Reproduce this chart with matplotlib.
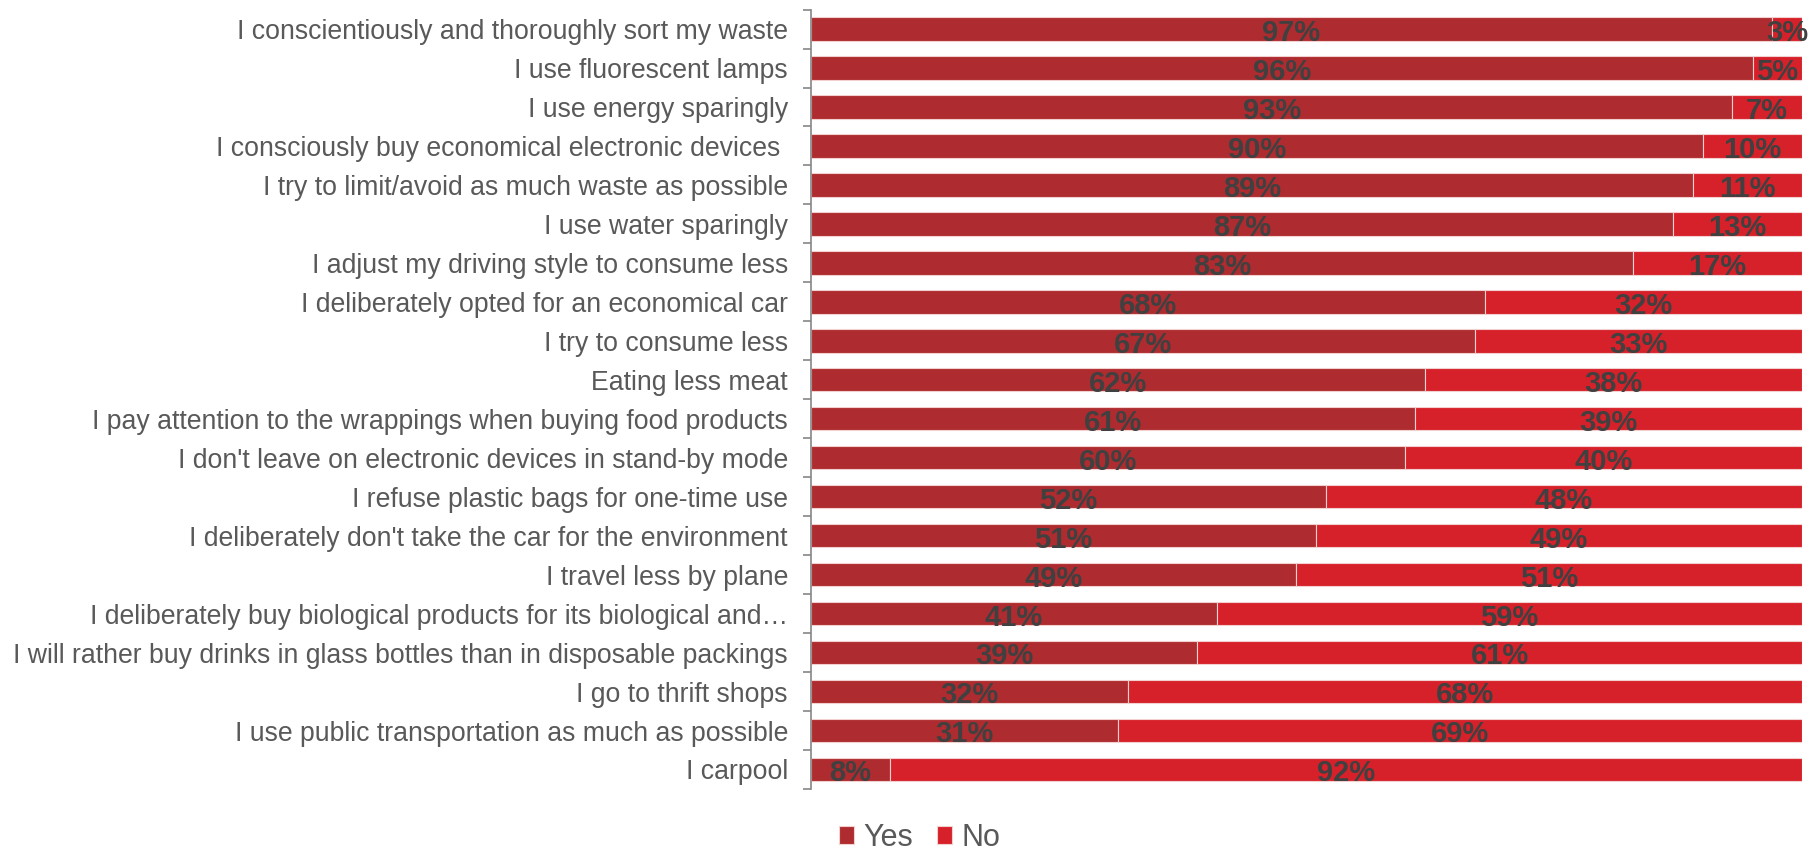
import matplotlib.pyplot as plt
from matplotlib.ticker import FixedLocator

plt.rcParams['font.family'] = ['Liberation Sans', 'DejaVu Sans']

categories = [
    "I conscientiously and thoroughly sort my waste",
    "I use fluorescent lamps",
    "I use energy sparingly",
    "I consciously buy economical electronic devices ",
    "I try to limit/avoid as much waste as possible",
    "I use water sparingly",
    "I adjust my driving style to consume less",
    "I deliberately opted for an economical car",
    "I try to consume less",
    "Eating less meat",
    "I pay attention to the wrappings when buying food products",
    "I don't leave on electronic devices in stand-by mode",
    "I refuse plastic bags for one-time use",
    "I deliberately don't take the car for the environment",
    "I travel less by plane",
    "I deliberately buy biological products for its biological and\u2026",
    "I will rather buy drinks in glass bottles than in disposable packings",
    "I go to thrift shops",
    "I use public transportation as much as possible",
    "I carpool",
]
yes = [97, 96, 93, 90, 89, 87, 83, 68, 67, 62, 61, 60, 52, 51, 49, 41, 39, 32, 31, 8]
no = [3, 5, 7, 10, 11, 13, 17, 32, 33, 38, 39, 40, 48, 49, 51, 59, 61, 68, 69, 92]

YES_COLOR = '#ae2b2f'
NO_COLOR = '#d7212a'
LABEL_COLOR = '#404040'

# each row is stretched to 100 %
totals = [y + n for y, n in zip(yes, no)]
yes_share = [y / t * 100 for y, t in zip(yes, totals)]
no_share = [n / t * 100 for n, t in zip(no, totals)]

fig = plt.figure(figsize=(18.1, 8.56), dpi=100)
ax = fig.add_axes([0.448, 0.0783, 0.5475, 0.9105])

pos = list(range(len(categories)))
b1 = ax.barh(pos, yes_share, height=0.6, color=YES_COLOR,
             edgecolor='#f3d0d0', linewidth=0.8, label='Yes')
b2 = ax.barh(pos, no_share, left=yes_share, height=0.6, color=NO_COLOR,
             edgecolor='#f3d0d0', linewidth=0.8, label='No')

for bars, vals in ((b1, yes), (b2, no)):
    for rect, v in zip(bars, vals):
        cx = rect.get_x() + rect.get_width() / 2
        cy = rect.get_y() + rect.get_height() / 2
        ax.text(cx, cy + 0.1, f'{v}%', ha='center', va='center',
                fontsize=21, fontweight='bold', color=LABEL_COLOR)

ax.set_xlim(0, 100)
ax.set_ylim(len(categories) - 0.5, -0.5)
ax.set_xticks([])
ax.set_yticks(pos)
ax.set_yticklabels(categories, fontsize=19.2, color='#595959')
ax.tick_params(axis='y', which='major', length=0, pad=16.5)
ax.yaxis.set_minor_locator(FixedLocator([p - 0.5 for p in pos] + [len(pos) - 0.5]))
ax.tick_params(axis='y', which='minor', length=6, width=1.2, color='#868686')

for side in ('top', 'right', 'bottom'):
    ax.spines[side].set_visible(False)
ax.spines['left'].set_color('#868686')
ax.spines['left'].set_linewidth(1.2)

fig.legend(handles=[b1, b2], loc='center', bbox_to_anchor=(0.508, 0.021),
           ncol=2, frameon=False, fontsize=22, labelcolor='#595959',
           handlelength=0.5, handleheight=0.5, handletextpad=0.3,
           columnspacing=0.8, borderpad=0.2)

fig.savefig('out.png', dpi=100)
